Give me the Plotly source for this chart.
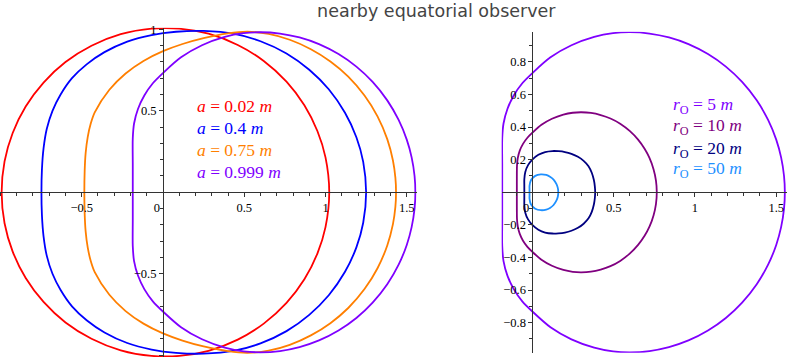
import plotly.graph_objects as go

# upper halves of the shadow outlines (the lower half is the mirror image)
# left panel: r_O = 5m, different spin a
red_x = [-0.993, -0.975, -0.925, -0.845, -0.735, -0.60, -0.44, -0.26, -0.07, 0.10, 0.28, 0.46, 0.62, 0.76, 0.87, 0.95, 1.00, 1.023]
red_y = [0.0, 0.19, 0.364, 0.526, 0.673, 0.799, 0.899, 0.970, 1.004, 1.004, 0.973, 0.904, 0.806, 0.679, 0.534, 0.376, 0.214, 0.0]

blue_x = [-0.748, -0.745, -0.735, -0.715, -0.68, -0.63, -0.56, -0.47, -0.36, -0.22, -0.07, 0.08, 0.25,
          0.44, 0.60, 0.76, 0.90, 1.02, 1.12, 1.19, 1.232, 1.25]
blue_y = [0.0, 0.14, 0.27, 0.39, 0.50, 0.60, 0.70, 0.785, 0.86, 0.925, 0.965, 0.985, 0.99,
          0.972, 0.927, 0.852, 0.752, 0.632, 0.488, 0.338, 0.187, 0.0]

orange_x = [-0.484, -0.482, -0.476, -0.463, -0.445, -0.42, -0.33, -0.23, -0.12, 0.0, 0.12, 0.25, 0.40, 0.52,
            0.65, 0.78, 0.91, 1.03, 1.14, 1.24, 1.32, 1.38, 1.415, 1.43, 1.434]
orange_y = [0.0, 0.13, 0.24, 0.34, 0.42, 0.49, 0.629, 0.729, 0.806, 0.866, 0.91, 0.946, 0.975, 0.985,
            0.972, 0.936, 0.878, 0.803, 0.710, 0.594, 0.466, 0.326, 0.195, 0.09, 0.0]

violet_x = [-0.186, -0.186, -0.186, -0.178, -0.154, -0.115, -0.0625, 0.003, 0.111, 0.24, 0.38, 0.496, 0.6,
            0.72, 0.84, 0.96, 1.08, 1.19, 1.29, 1.38, 1.45, 1.50, 1.53, 1.548, 1.553]
violet_y = [0.0, 0.17, 0.33, 0.422, 0.511, 0.594, 0.669, 0.7345, 0.828, 0.902, 0.953, 0.976, 0.982,
            0.974, 0.950, 0.909, 0.848, 0.771, 0.677, 0.564, 0.444, 0.323, 0.214, 0.100, 0.0]

# right panel: a = 0.999m, different observer distance (r_O = 5m is the violet one above)
r10_x = [-0.096, -0.096, -0.095, -0.09, -0.078, -0.058, -0.031, 0.0015, 0.0555, 0.12, 0.19, 0.248, 0.3,
         0.36, 0.42, 0.48, 0.54, 0.60, 0.65, 0.69, 0.72, 0.745, 0.76, 0.765]
r10_y = [0.0, 0.09, 0.165, 0.211, 0.2555, 0.297, 0.3345, 0.367, 0.414, 0.451, 0.4765, 0.488, 0.491,
         0.487, 0.474, 0.453, 0.421, 0.375, 0.323, 0.267, 0.211, 0.142, 0.072, 0.0]

r20_x = [-0.05, -0.05, -0.05, -0.044, -0.027, 0.0007, 0.0365, 0.078, 0.123, 0.16, 0.20, 0.24, 0.28, 0.315,
         0.345, 0.365, 0.378, 0.384, 0.386]
r20_y = [0.0, 0.04, 0.08, 0.125, 0.1665, 0.202, 0.23, 0.247, 0.253, 0.252, 0.247, 0.236, 0.218, 0.193,
         0.16, 0.12, 0.075, 0.035, 0.0]

r50_x = [-0.018, -0.018, -0.018, -0.0086, 0.017, 0.052, 0.085, 0.108, 0.13, 0.148, 0.156, 0.159]
r50_y = [0.0, 0.02, 0.04, 0.075, 0.1006, 0.11, 0.1064, 0.096, 0.078, 0.05, 0.027, 0.0]

left_labels = ["0.02", "0.4", "0.75", "0.999"]
right_labels = ["5", "10", "20", "50"]


def closed(xs, ys):
    # upper half then the mirrored lower half back
    return xs + xs[::-1][1:], ys + [-v for v in ys[::-1][1:]]


fig = go.Figure()

left = [(red_x, red_y, "#ff0000"), (blue_x, blue_y, "#0000ff"),
        (orange_x, orange_y, "#ff7f00"), (violet_x, violet_y, "#7f00ff")]
for xs, ys, c in left:
    X, Y = closed(xs, ys)
    fig.add_trace(go.Scatter(x=X, y=Y, mode="lines", line=dict(color=c, width=1.8, shape="spline", smoothing=0.8),
                             xaxis="x", yaxis="y", showlegend=False, hoverinfo="skip"))

right = [(violet_x, violet_y, "#7f00ff"), (r10_x, r10_y, "#800080"),
         (r20_x, r20_y, "#000080"), (r50_x, r50_y, "#1e90ff")]
for xs, ys, c in right:
    X, Y = closed(xs, ys)
    fig.add_trace(go.Scatter(x=X, y=Y, mode="lines", line=dict(color=c, width=1.8, shape="spline", smoothing=0.8),
                             xaxis="x2", yaxis="y2", showlegend=False, hoverinfo="skip"))

tickfont = dict(family="Liberation Serif", size=12.5, color="black")
common = dict(anchor="free", showline=True, linecolor="#333", linewidth=1, ticks="outside", ticklen=4,
              tickcolor="#333", showgrid=False, zeroline=False, tickfont=tickfont,
              minor=dict(ticks="outside", dtick=0.1, tick0=0, ticklen=3, tickcolor="#333"))

# labels inside the plots
annos = []
left_cols = ["#ff0000", "#0000ff", "#ff7f00", "#7f00ff"]
left_rows = [0.529, 0.394, 0.259, 0.127]
for lab, c, yy in zip(left_labels, left_cols, left_rows):
    annos.append(dict(x=0.197, y=yy, xref="x", yref="y", xanchor="left", yanchor="middle", showarrow=False,
                      text="<i>a</i> = " + lab + " <i>m</i>",
                      font=dict(family="Liberation Serif", size=17.5, color=c)))
right_cols = ["#7f00ff", "#800080", "#000080", "#1e90ff"]
right_rows = [0.535, 0.403, 0.265, 0.14]
for lab, c, yy in zip(right_labels, right_cols, right_rows):
    annos.append(dict(x=0.852, y=yy, xref="x2", yref="y2", xanchor="left", yanchor="middle", showarrow=False,
                      text="<i>r</i><sub>O</sub> = " + lab + " <i>m</i>",
                      font=dict(family="Liberation Serif", size=17.5, color=c)))

zero = "0\u2002\u2002"  # the origin label sits just left of the vertical axis

fig.update_layout(
    width=789, height=361,
    margin=dict(l=0, r=0, t=0, b=0, pad=0, autoexpand=False),
    paper_bgcolor="white", plot_bgcolor="white",
    title=dict(text="nearby equatorial observer", x=0.553, xanchor="center", y=0.9695, yanchor="middle",
               yref="container", font=dict(family="DejaVu Sans", size=17.5, color="#444")),
    xaxis=dict(domain=[0, 0.5281], range=[-1.003, 1.561], position=0.4673,
               tickvals=[-0.5, 0, 0.5, 1, 1.5], ticktext=["−0.5", zero, "0.5", "1", "1.5"], **common),
    yaxis=dict(domain=[0.0114, 0.9233], range=[-1.01, 1.01], position=0.2066,
               tickvals=[-1, -0.5, 0.5, 1], ticktext=["−1", "−0.5", "0.5", "1"], **common),
    xaxis2=dict(domain=[0.6357, 0.9972], range=[-0.19, 1.565], position=0.4673,
                tickvals=[0, 0.5, 1, 1.5], ticktext=[zero, "0.5", "1", "1.5"], **common),
    yaxis2=dict(domain=[0.0226, 0.9121], range=[-0.985, 0.985], position=0.6749,
                tickvals=[-0.8, -0.6, -0.4, -0.2, 0.2, 0.4, 0.6, 0.8],
                ticktext=["−0.8", "−0.6", "−0.4", "−0.2", "0.2", "0.4", "0.6", "0.8"], **common),
    annotations=annos,
)

# drop the browser's default body margin so the 789x361 figure sits at the window corner
fig.write_html("out.html", config={"displayModeBar": False},
               post_script="document.body.style.margin='0';document.body.style.overflow='hidden';")
